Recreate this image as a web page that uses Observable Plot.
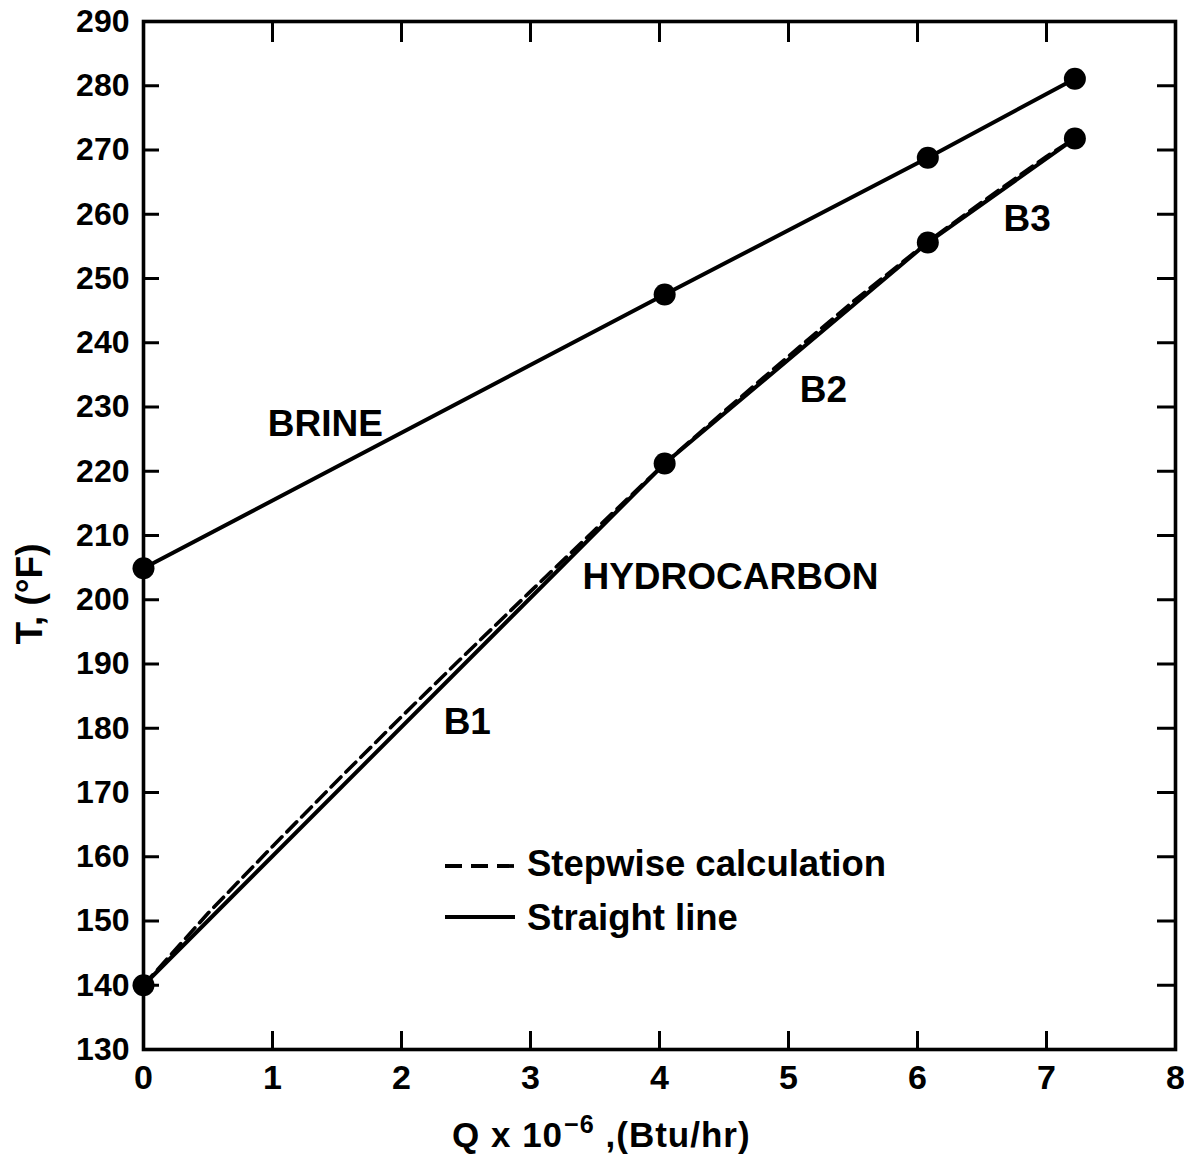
<!DOCTYPE html>
<html>
<head>
<meta charset="utf-8">
<script src="https://cdn.jsdelivr.net/npm/d3@7"></script>
<script src="https://cdn.jsdelivr.net/npm/@observablehq/plot@0.6"></script>
<style>
  body { margin: 0; background: #fff; font-family: "Liberation Sans", Arial, sans-serif; }
  #wrap { position: relative; width: 1184px; height: 1159px; }
  #xlabel { position: absolute; left: 452px; top: 1117px; font-size: 35px; line-height: 35px; font-weight: bold; white-space: nowrap; color: #000; letter-spacing: 1px; }
  #xlabel sup { font-size: 0.72em; position: relative; top: -0.55em; vertical-align: baseline; margin-left: 1px; }
  #ylabel { position: absolute; left: 29px; top: 594px; font-size: 37px; line-height: 37px; font-weight: bold; white-space: nowrap; color: #000;
            transform: translate(-50%, -50%) rotate(-90deg); }
  #legend { position: absolute; left: 440px; top: 830px; }
</style>
</head>
<body>
<div id="wrap"></div>
<script>
// Heat duty Q (10^6 Btu/hr) vs temperature T (°F) for the brine and hydrocarbon streams
const brineQ = [0, 4.04, 6.08, 7.22];
const brineT = [204.9, 247.5, 268.8, 281.1];

// Hydrocarbon: straight-line segments B1, B2, B3
const hcQ = [0, 4.04, 6.08, 7.22];
const hcT = [140, 221.2, 255.6, 271.8];

// Hydrocarbon: stepwise calculation
const stepQ = [0, 0.5, 1, 1.5, 2, 2.5, 3, 3.5, 4.04, 4.5, 5, 5.5, 6.08, 6.5, 7, 7.22];
const stepT = [140, 151.2, 161.6, 171.8, 181.8, 191.6, 201.3, 210.9, 221.2, 229.3, 237.9, 246.4, 255.7, 261.9, 269.0, 271.8];

// Axis ticks
const xTicks = [0, 1, 2, 3, 4, 5, 6, 7, 8];
const yTicks = [130, 140, 150, 160, 170, 180, 190, 200, 210, 220, 230, 240, 250, 260, 270, 280, 290];

// Curve annotations
const noteText = ["BRINE", "HYDROCARBON", "B1", "B2", "B3"];
const noteQ = [1.41, 4.55, 2.51, 5.27, 6.85];
const noteT = [227.4, 203.5, 181.0, 232.6, 259.3];

const legendItems = ["Stepwise calculation", "Straight line"];

const font = "'Liberation Sans', Arial, sans-serif";
const blank = () => "";
const whole = d3.format("d");

const chart = Plot.plot({
  width: 1184,
  height: 1100,
  marginLeft: 143,
  marginRight: 9,
  marginTop: 21,
  marginBottom: 51,
  x: { domain: [0, 8] },
  y: { domain: [130, 290] },
  style: { fontFamily: font, fontWeight: "bold", color: "#000", background: "#fff", overflow: "visible" },
  marks: [
    // inward tick marks on all four sides
    Plot.axisX(xTicks, { anchor: "bottom", tickSize: -18, strokeWidth: 3, tickFormat: blank, label: null }),
    Plot.axisX(xTicks, { anchor: "top", tickSize: -20, strokeWidth: 3, tickFormat: blank, label: null }),
    Plot.axisY(yTicks, { anchor: "left", tickSize: -16, strokeWidth: 3, tickFormat: blank, label: null }),
    Plot.axisY(yTicks, { anchor: "right", tickSize: -19, strokeWidth: 3, tickFormat: blank, label: null }),
    // tick labels
    Plot.axisX(xTicks, { anchor: "bottom", tickSize: 0, tickPadding: 15, fontSize: 34, fontWeight: "bold", tickFormat: whole, label: null }),
    Plot.axisY(yTicks, { anchor: "left", tickSize: 0, tickPadding: 14, fontSize: 32, fontWeight: "bold", tickFormat: whole, label: null }),
    Plot.frame({ stroke: "#000", strokeWidth: 3.6 }),
    // curves
    Plot.line(stepQ, { x: stepQ, y: stepT, stroke: "#000", strokeWidth: 3.6, strokeDasharray: "14,7" }),
    Plot.line(hcQ, { x: hcQ, y: hcT, stroke: "#000", strokeWidth: 4 }),
    Plot.line(brineQ, { x: brineQ, y: brineT, stroke: "#000", strokeWidth: 4 }),
    Plot.dot(hcQ, { x: hcQ, y: hcT, r: 11, fill: "#000" }),
    Plot.dot(brineQ, { x: brineQ, y: brineT, r: 11, fill: "#000" }),
    // annotations
    Plot.text(noteText, { x: noteQ, y: noteT, text: noteText, fontSize: 37, fontWeight: "bold", fill: "#000" })
  ]
});

const wrap = document.getElementById("wrap");
wrap.appendChild(chart);

// axis titles
const xl = document.createElement("div");
xl.id = "xlabel";
xl.innerHTML = "Q x 10<sup>−6</sup> ,(Btu/hr)";
wrap.appendChild(xl);

const yl = document.createElement("div");
yl.id = "ylabel";
yl.textContent = "T, (°F)";
wrap.appendChild(yl);

// legend inside the plot area
const leg = d3.create("svg").attr("id", "legend").attr("width", 480).attr("height", 110)
  .style("font-family", font).style("font-weight", "bold");
const rows = [
  { y: 36, dash: "17,9", base: 46 },
  { y: 87, dash: null, base: 100 }
];
rows.forEach((r, i) => {
  leg.append("line").attr("x1", 5).attr("x2", 75).attr("y1", r.y).attr("y2", r.y)
    .attr("stroke", "#000").attr("stroke-width", 3.8).attr("stroke-dasharray", r.dash);
  leg.append("text").attr("x", 87).attr("y", r.base).attr("font-size", 36.5).attr("fill", "#000")
    .text(legendItems[i]);
});
wrap.appendChild(leg.node());
</script>
</body>
</html>
